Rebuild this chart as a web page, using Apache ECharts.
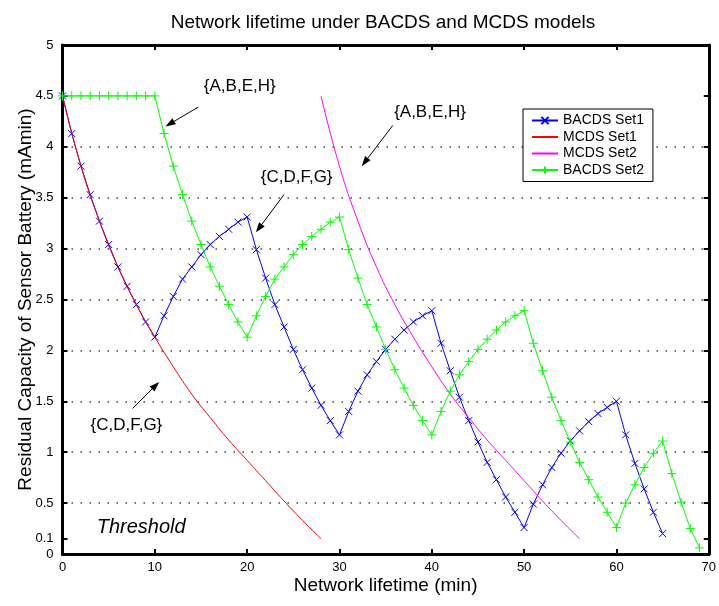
<!DOCTYPE html>
<html>
<head>
<meta charset="utf-8">
<title>Network lifetime under BACDS and MCDS models</title>
<script src="https://cdn.jsdelivr.net/npm/echarts@6.0.0/dist/echarts.min.js"></script>
<style>
    html, body { margin: 0; padding: 0; background: #fff; }
    #main { width: 719px; height: 606px; }
</style>
</head>
<body>
<div id="main"></div>
<script>
// 数据
var bacds1Min = [0,1,2,3,4,5,6,7,8,9,10,11,12,13,14,15,16,17,18,19,20,21,22,23,24,25,26,27,28,29,30,
    31,32,33,34,35,36,37,38,39,40,41,42,43,44,45,46,47,48,49,50,51,52,53,54,55,56,57,58,59,60,61,62,63,64,65];
var bacds1Val = [4.50,4.13,3.81,3.53,3.27,3.04,2.82,2.63,2.45,2.28,2.13,
    2.34,2.53,2.70,2.82,2.94,3.04,3.12,3.19,3.26,3.31,
    2.99,2.71,2.45,2.23,2.01,1.81,1.63,1.46,1.31,1.17,
    1.40,1.60,1.76,1.89,2.01,2.11,2.20,2.28,2.34,2.39,
    2.07,1.80,1.54,1.31,1.10,0.90,0.73,0.56,0.41,0.26,
    0.49,0.68,0.85,0.99,1.11,1.21,1.30,1.38,1.44,1.50,
    1.17,0.89,0.64,0.41,0.20];

var bacds2Min = [0,1,2,3,4,5,6,7,8,9,10,11,12,13,14,15,16,17,18,19,20,21,22,23,24,25,26,27,28,29,30,
    31,32,33,34,35,36,37,38,39,40,41,42,43,44,45,46,47,48,49,50,51,52,53,54,55,56,57,58,59,60,
    61,62,63,64,65,66,67,68,69];
var bacds2Val = [4.50,4.50,4.50,4.50,4.50,4.50,4.50,4.50,4.50,4.50,4.50,
    4.13,3.81,3.53,3.27,3.04,2.82,2.63,2.45,2.28,2.13,
    2.34,2.53,2.70,2.82,2.94,3.04,3.12,3.19,3.26,3.31,
    2.99,2.71,2.45,2.23,2.01,1.81,1.63,1.46,1.31,1.17,
    1.40,1.60,1.76,1.89,2.01,2.11,2.20,2.28,2.34,2.39,
    2.07,1.80,1.54,1.31,1.10,0.90,0.73,0.56,0.41,0.26,
    0.50,0.68,0.85,0.99,1.11,
    0.79,0.51,0.25,0.06];

var mcds1Min = [0,2,4,6,8,10,12,14,16,18,20,22,24,26,28];
var mcds1Val = [4.50,3.81,3.27,2.82,2.45,2.13,1.84,1.57,1.34,1.12,0.92,0.72,0.52,0.33,0.15];
var mcds2Min = [28,30,32,34,36,38,40,42,44,46,48,50,52,54,56];
var mcds2Val = [4.50,3.81,3.27,2.82,2.45,2.13,1.84,1.57,1.34,1.12,0.92,0.72,0.52,0.33,0.15];

// 坐标轴刻度
var yTickVals = [0.15,0.5,1,1.5,2,2.5,3,3.5,4,4.5];
var yLabelVals = [0,0.15,0.5,1,1.5,2,2.5,3,3.5,4,4.5,5];
var yLabelText = ['0','0.1','0.5','1','1.5','2','2.5','3','3.5','4','4.5','5'];

// 注释 (数据坐标)
var notes = [
    { text: '{A,B,E,H}', at: [19.2, 4.59], from: [14.7, 4.39], to: [11.16, 4.20] },
    { text: '{C,D,F,G}', at: [25.36, 3.70], from: [23.99, 3.53], to: [20.95, 3.16] },
    { text: '{A,B,E,H}', at: [39.81, 4.34], from: [35.77, 4.21], to: [32.41, 3.81] },
    { text: '{C,D,F,G}', at: [6.92, 1.26], from: [7.59, 1.43], to: [10.47, 1.69] }
];
var thresholdNote = { text: 'Threshold', at: [8.52, 0.26] };

var font = '"Liberation Sans", Arial, Helvetica, sans-serif';

function pairs(xs, ys) {
    var out = [];
    for (var i = 0; i < xs.length; i++) {
        out.push([xs[i], ys[i]]);
    }
    return out;
}

var crossPath = 'path://M0,0L10,10M10,0L0,10';
var plusPath = 'path://M5,0L5,10M0,5L10,5';

var myChart = echarts.init(document.getElementById('main'));

var boxLine = { show: true, onZero: false, lineStyle: { color: '#000', width: 3 } };
var tickIn = { show: true, inside: true, length: 5, lineStyle: { color: '#000', width: 2 } };

var option = {
    animation: false,
    backgroundColor: '#fff',
    title: {
        text: 'Network lifetime under BACDS and MCDS models',
        left: 378,
        top: 8,
        textAlign: 'center',
        textStyle: { fontSize: 19, fontWeight: 'normal', color: '#000', fontFamily: font }
    },
    legend: {
        orient: 'vertical',
        left: 523,
        top: 109,
        padding: [4.5, 9, 4.5, 8],
        itemWidth: 26,
        itemHeight: 9,
        itemGap: 2.5,
        borderColor: '#000',
        borderWidth: 1,
        backgroundColor: '#fff',
        textStyle: { fontSize: 14, color: '#000', fontFamily: font },
        data: [
            'BACDS Set1',
            { name: 'MCDS Set1', itemStyle: { opacity: 0 } },
            { name: 'MCDS Set2', itemStyle: { opacity: 0 } },
            'BACDS Set2'
        ]
    },
    grid: { left: 62.5, right: 10, top: 45, bottom: 52 },
    xAxis: [
        {
            type: 'value', min: 0, max: 70, interval: 10,
            name: 'Network lifetime (min)',
            nameLocation: 'middle',
            nameGap: 22,
            nameMoveOverlap: false,
            nameTextStyle: { fontSize: 19, color: '#000', fontFamily: font },
            axisLine: boxLine,
            axisTick: tickIn,
            axisLabel: { fontSize: 13, color: '#000', margin: 7, fontFamily: font },
            splitLine: { show: false }
        },
        {
            type: 'value', min: 0, max: 70, interval: 10, position: 'top',
            axisLine: boxLine,
            axisTick: tickIn,
            axisLabel: { show: false },
            splitLine: { show: false }
        }
    ],
    yAxis: [
        {
            type: 'value', min: 0, max: 5,
            name: 'Residual Capacity of Sensor Battery (mAmin)',
            nameLocation: 'middle',
            nameGap: 27,
            nameMoveOverlap: false,
            nameTextStyle: { fontSize: 19, color: '#000', fontFamily: font },
            axisLine: boxLine,
            axisTick: { show: true, inside: true, length: 5, lineStyle: { color: '#000', width: 2 }, customValues: yTickVals },
            axisLabel: {
                fontSize: 13, color: '#000', margin: 9, fontFamily: font,
                customValues: yLabelVals,
                formatter: function (v) {
                    var i = yLabelVals.indexOf(v);
                    return i >= 0 ? yLabelText[i] : v;
                }
            },
            splitLine: {
                show: true, showMinLine: false, showMaxLine: false,
                lineStyle: { color: '#444', width: 1.5, type: [1.5, 7.5] }
            }
        },
        {
            type: 'value', min: 0, max: 5, position: 'right',
            axisLine: boxLine,
            axisTick: { show: true, inside: true, length: 5, lineStyle: { color: '#000', width: 2 }, customValues: yTickVals },
            axisLabel: { show: false, customValues: yTickVals },
            splitLine: { show: false }
        }
    ],
    series: [
        {
            name: 'BACDS Set1',
            type: 'line',
            data: pairs(bacds1Min, bacds1Val),
            symbol: crossPath,
            symbolSize: 7,
            showAllSymbol: true,
            lineStyle: { color: '#0000ff', width: 1 },
            itemStyle: { color: '#0000ff', borderColor: '#0000ff', borderWidth: 1 },
            emphasis: { disabled: true },
            z: 3
        },
        {
            name: 'MCDS Set1',
            type: 'line',
            data: pairs(mcds1Min, mcds1Val),
            smooth: true,
            symbol: 'none',
            lineStyle: { color: '#ff0000', width: 1 },
            itemStyle: { color: '#ff0000' },
            emphasis: { disabled: true },
            z: 4
        },
        {
            name: 'MCDS Set2',
            type: 'line',
            data: pairs(mcds2Min, mcds2Val),
            smooth: true,
            symbol: 'none',
            lineStyle: { color: '#ff00ff', width: 1 },
            itemStyle: { color: '#ff00ff' },
            emphasis: { disabled: true },
            z: 4
        },
        {
            name: 'BACDS Set2',
            type: 'line',
            data: pairs(bacds2Min, bacds2Val),
            symbol: plusPath,
            symbolSize: 9,
            showAllSymbol: true,
            lineStyle: { color: '#00ff00', width: 1 },
            itemStyle: { color: '#00ff00', borderColor: '#00ff00', borderWidth: 1 },
            emphasis: { disabled: true },
            z: 5
        }
    ]
};

myChart.setOption(option);

// 注释文字和箭头
function px(p) {
    return myChart.convertToPixel({ xAxisIndex: 0, yAxisIndex: 0 }, p);
}
var g = [];
notes.forEach(function (n) {
    var c = px(n.at);
    g.push({
        type: 'text', x: c[0], y: c[1], z: 20,
        style: { text: n.text, fontSize: 17, fontFamily: font, fill: '#000', align: 'center', verticalAlign: 'middle' }
    });
    var a = px(n.from), b = px(n.to);
    var dx = b[0] - a[0], dy = b[1] - a[1];
    var len = Math.sqrt(dx * dx + dy * dy);
    var ux = dx / len, uy = dy / len;
    var hl = 10, hw = 3.5;
    var bx = b[0] - ux * hl, by = b[1] - uy * hl;
    g.push({ type: 'line', z: 20, shape: { x1: a[0], y1: a[1], x2: bx, y2: by }, style: { stroke: '#000', lineWidth: 1 } });
    g.push({
        type: 'polygon', z: 20,
        shape: { points: [[b[0], b[1]], [bx - uy * hw, by + ux * hw], [bx + uy * hw, by - ux * hw]] },
        style: { fill: '#000' }
    });
});
var t = px(thresholdNote.at);
g.push({
    type: 'text', x: t[0], y: t[1], z: 20,
    style: { text: thresholdNote.text, fontSize: 20, fontStyle: 'italic', fontFamily: font, fill: '#000', align: 'center', verticalAlign: 'middle' }
});
myChart.setOption({ graphic: g });
</script>
</body>
</html>
